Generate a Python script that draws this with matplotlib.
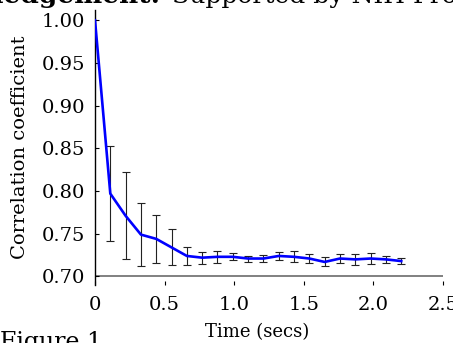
import numpy as np
import matplotlib.pyplot as plt

# values
time_secs = [0.0, 0.11, 0.22, 0.33, 0.44, 0.55, 0.66, 0.77, 0.88, 0.99, 1.10,
             1.21, 1.32, 1.43, 1.54, 1.65, 1.76, 1.87, 1.98, 2.09, 2.20]
corr_mean = [1.000, 0.797, 0.771, 0.749, 0.744, 0.734, 0.724, 0.722, 0.723, 0.723, 0.721,
             0.721, 0.724, 0.723, 0.721, 0.717, 0.721, 0.720, 0.721, 0.720, 0.718]
corr_err = [0.0, 0.056, 0.051, 0.037, 0.028, 0.021, 0.010, 0.007, 0.007, 0.004, 0.0035,
            0.0043, 0.005, 0.0065, 0.0053, 0.0053, 0.0049, 0.0065, 0.0065, 0.0043, 0.0035]

x_ticks = [0, 0.5, 1.0, 1.5, 2.0, 2.5]
x_tick_labels = ['0', '0.5', '1.0', '1.5', '2.0', '2.5']
y_ticks = [0.70, 0.75, 0.80, 0.85, 0.90, 0.95, 1.00]

plt.rcParams['font.family'] = ['DejaVu Serif']

fig = plt.figure(figsize=(4.53, 3.43), dpi=100)
ax = fig.add_axes([95 / 453, 1 - 285 / 343, 348 / 453, 275 / 343])

# error bars first, then the mean line on top
ax.errorbar(time_secs[1:], corr_mean[1:], yerr=corr_err[1:], fmt='none',
            ecolor='#222222', elinewidth=0.8, capsize=3, capthick=0.8, zorder=2)
ax.plot(time_secs, corr_mean, color='#0000ff', linewidth=1.9, zorder=3)
ax.axhline(0.70, color='#808080', linewidth=1.4, zorder=1)

ax.set_xlim(0, 2.5)
ax.set_ylim(0.690, 1.012)
ax.set_xticks(x_ticks)
ax.set_xticklabels(x_tick_labels)
ax.set_yticks(y_ticks)
ax.set_yticklabels(['%.2f' % v for v in y_ticks])

for side in ['top', 'right', 'bottom']:
    ax.spines[side].set_visible(False)
ax.spines['left'].set_linewidth(1.0)

ax.tick_params(axis='y', direction='in', length=3, width=0.8, pad=7, labelsize=14)
ax.tick_params(axis='x', direction='in', length=3, width=0.8, pad=8, labelsize=14)

ax.set_xlabel('Time (secs)', fontsize=13)
ax.xaxis.set_label_coords(0.466, -0.14)
ax.set_ylabel('Correlation coefficient', fontsize=14)
ax.yaxis.set_label_coords(-0.19, 0.5)

# cropped caption text around the figure
fig.text(160 / 453, 1 - 3 / 343, 'Acknowledgement:', fontsize=19, fontweight='bold',
         ha='right', va='baseline')
fig.text(172 / 453, 1 - 3 / 343, 'Supported by NIH Pro', fontsize=18,
         ha='left', va='baseline')
fig.text(0.0, 1 - 331 / 343, 'Figure 1', fontsize=17, ha='left', va='top')

fig.savefig('out.png', dpi=100)
